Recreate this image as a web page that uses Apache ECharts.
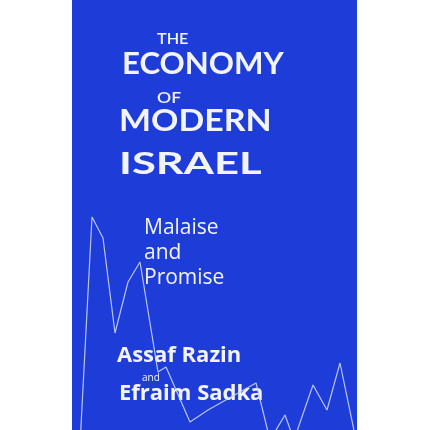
<!DOCTYPE html>
<html>
<head>
<meta charset="utf-8">
<script src="https://cdn.jsdelivr.net/npm/echarts@6/dist/echarts.min.js"></script>
<style>
html,body{margin:0;padding:0;background:#ffffff;}
#chart{width:430px;height:430px;}
</style>
</head>
<body>
<div id="chart"></div>
<script>
// Decorative series on the cover (period index, value)
var periods = [8, 20, 31, 43, 56, 68, 86, 94, 118, 136, 184, 198, 213, 222, 241, 255, 268, 284];
var values  = [-15, 213, 192, 97, 148, 168, 58, 63, 8, 20, 47, -10, 15, -10, 45, 20, 67, -10];

var titleLines = ["THE", "ECONOMY", "OF", "MODERN", "ISRAEL"];
var subtitleLines = ["Malaise", "and", "Promise"];
var authorA = "Assaf Razin";
var joiner = "and";
var authorB = "Efraim Sadka";

var pts = periods.map(function (p, i) { return [p, values[i]]; });

var chart = echarts.init(document.getElementById('chart'), null, {renderer: 'canvas'});
var white = '#f3f4fb';
var titleFont = 'Lato';
chart.setOption({
  animation: false,
  backgroundColor: '#ffffff',
  grid: {left: 72, right: 73, top: 0, bottom: 0, show: true,
         backgroundColor: '#1e3dd8', borderWidth: 0},
  xAxis: {type: 'value', min: 0, max: 285, show: false},
  yAxis: {type: 'value', min: 0, max: 430, show: false},
  series: [{
    type: 'line', data: pts, symbol: 'none', clip: true,
    lineStyle: {color: 'rgba(200,212,255,0.9)', width: 1.2}
  }],
  graphic: [
    {type: 'text', x: 157, y: 32, scaleX: 1.08, style: {text: titleLines[0], fill: white, font: '600 15px ' + titleFont}},
    {type: 'text', x: 122, y: 49, scaleX: 1.04, style: {text: titleLines[1], fill: white, font: 'bold 30px ' + titleFont}},
    {type: 'text', x: 157, y: 90, scaleX: 1.1, style: {text: titleLines[2], fill: white, font: '600 16px ' + titleFont}},
    {type: 'text', x: 119, y: 106, scaleX: 1.13, style: {text: titleLines[3], fill: white, font: 'bold 30px ' + titleFont}},
    {type: 'text', x: 119, y: 149, scaleX: 1.45, style: {text: titleLines[4], fill: white, font: 'bold 30px ' + titleFont}},
    {type: 'text', x: 144, y: 216, style: {text: subtitleLines.join('\n'), fill: white, font: '21px "Open Sans"', lineHeight: 25}},
    {type: 'text', x: 117, y: 345, style: {text: authorA, fill: white, font: 'bold 22px "Open Sans"'}},
    {type: 'text', x: 142, y: 373, style: {text: joiner, fill: white, font: '10px "Open Sans"'}},
    {type: 'text', x: 119, y: 383, style: {text: authorB, fill: white, font: 'bold 22px "Open Sans"'}}
  ]
});
</script>
</body>
</html>
